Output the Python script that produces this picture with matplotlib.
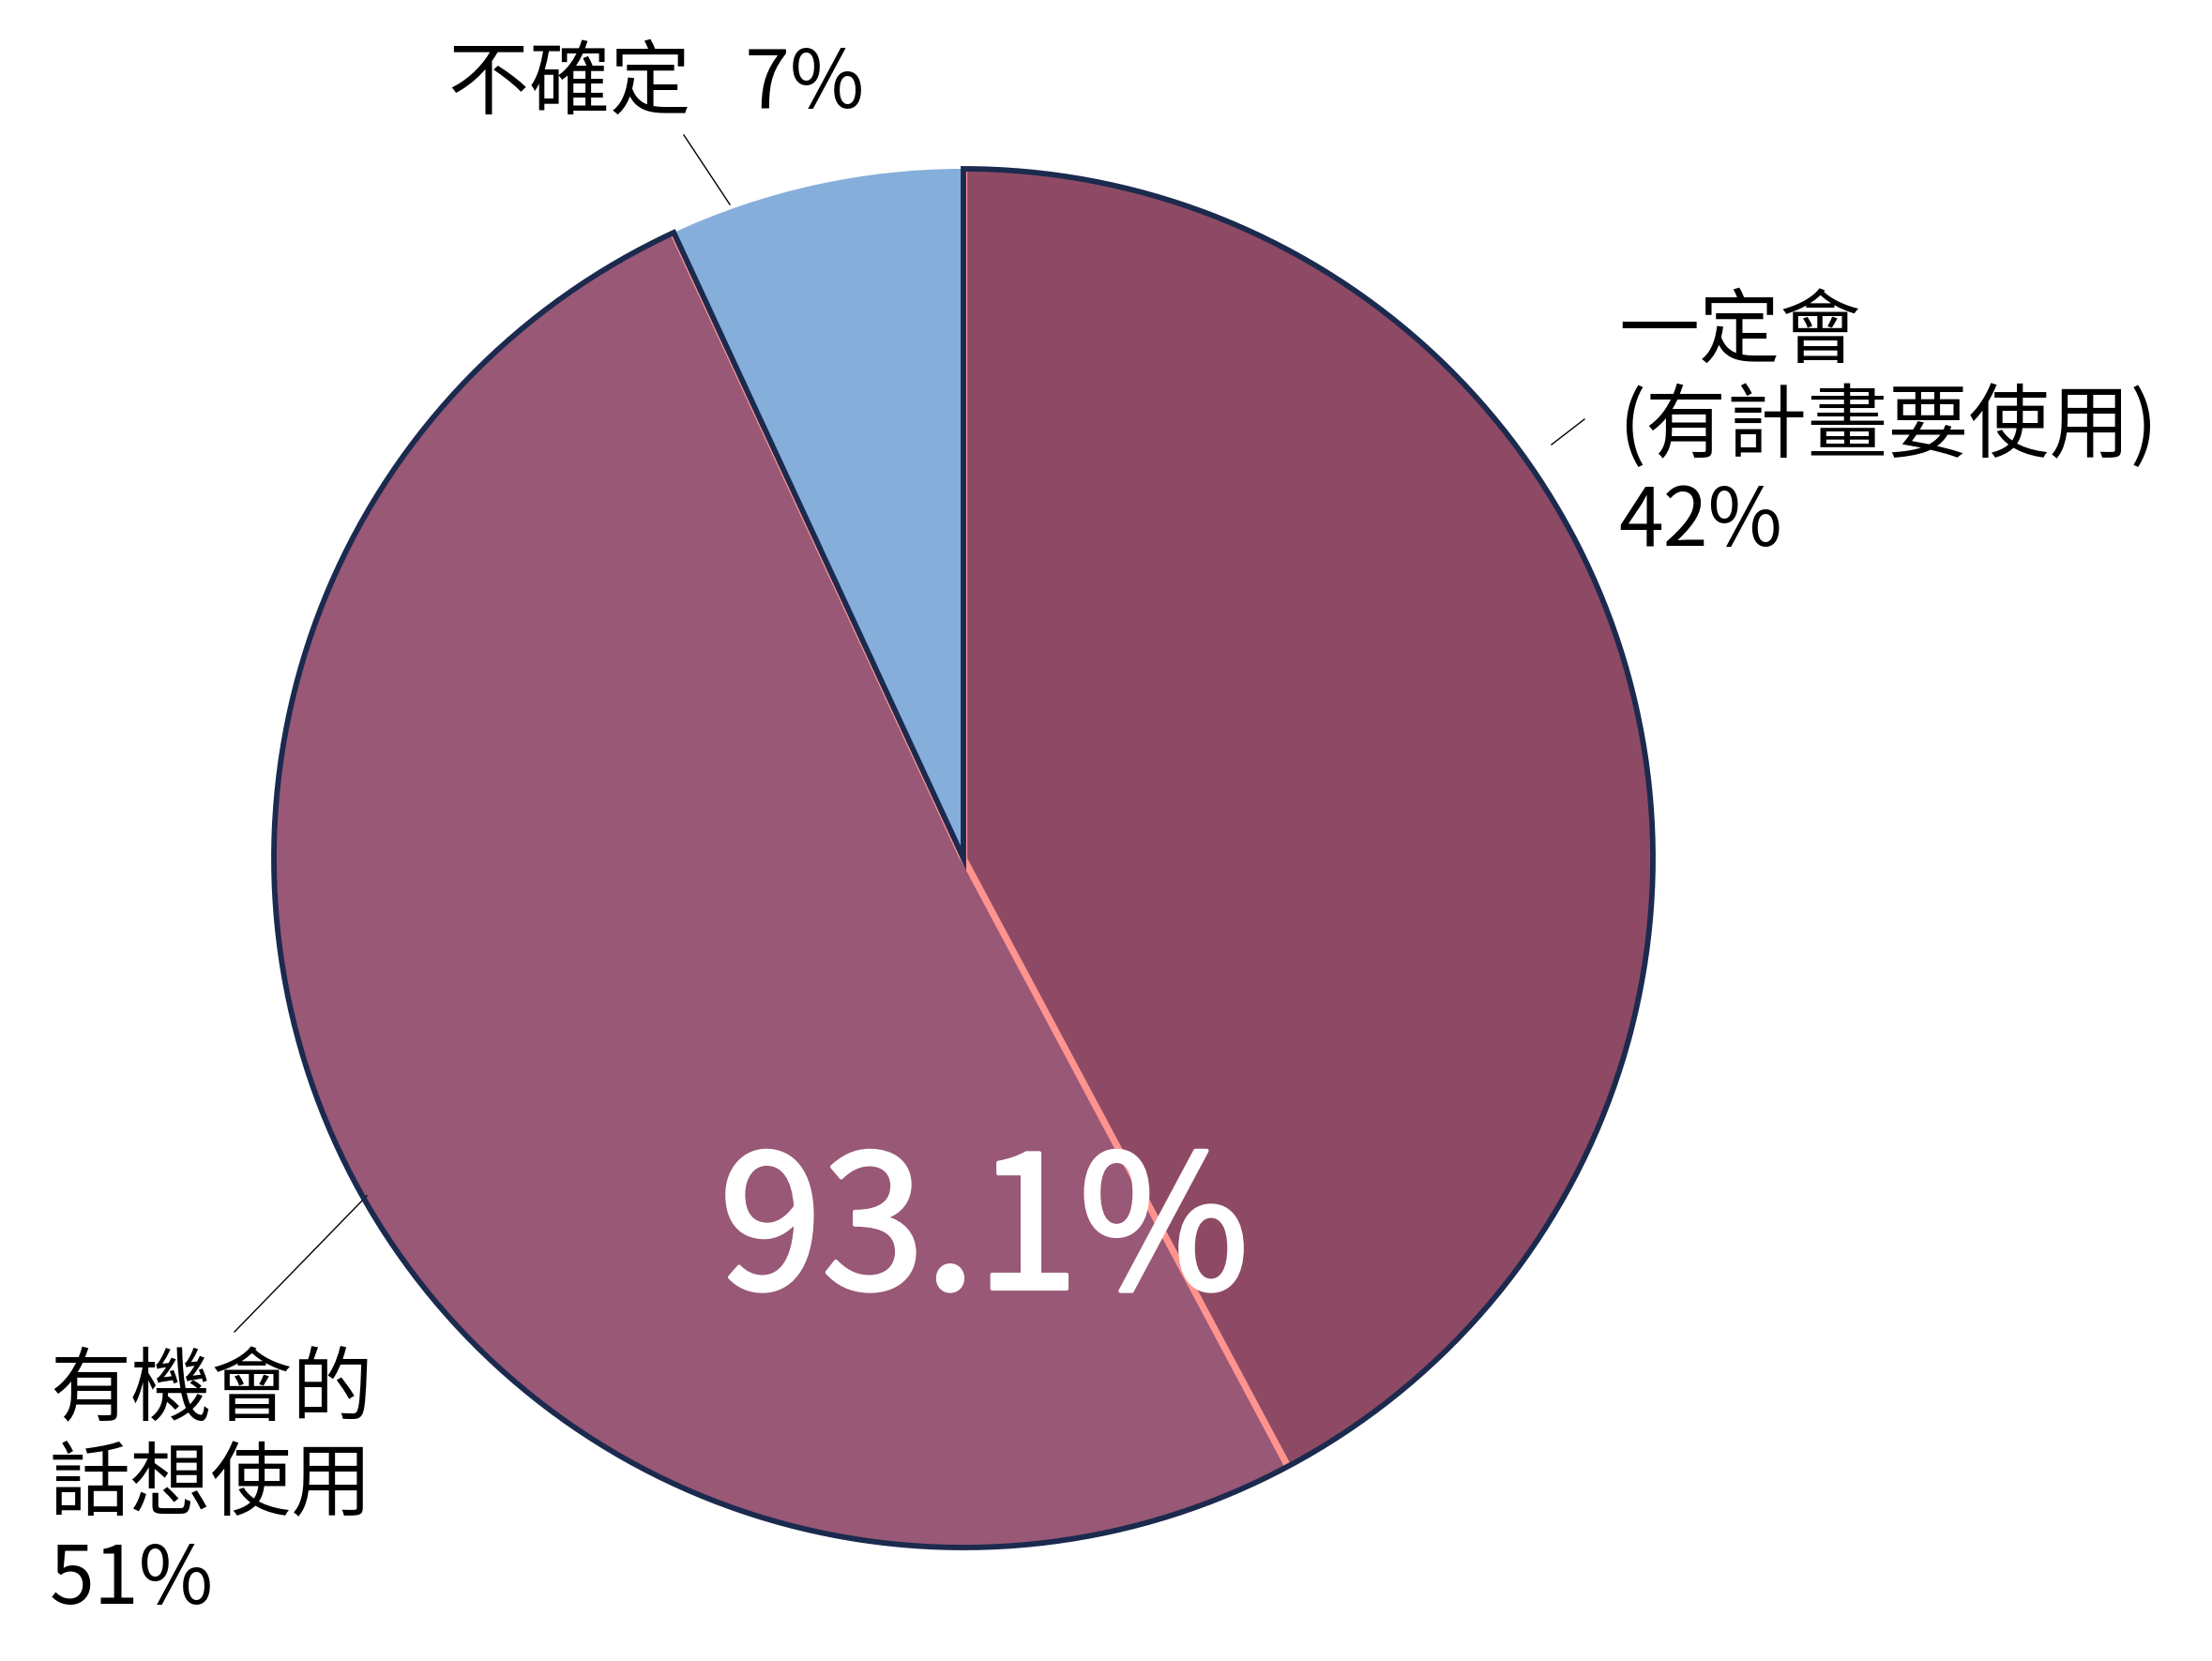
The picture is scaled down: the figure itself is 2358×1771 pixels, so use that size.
import numpy as np
import matplotlib
matplotlib.use('Agg')
import matplotlib.pyplot as plt
import matplotlib.patheffects as pe
from matplotlib.patches import Wedge

plt.rcParams['font.family'] = ['Noto Sans CJK TC', 'DejaVu Sans']

## data
labels = ['一定會\n(有計畫要使用)\n42%', '有機會的\n話想使用\n51%', '不確定   7%']
values = [42.2, 50.9, 6.9]
colors = ['#8E4A64', '#985876', '#86AEDB']
total_label = '93.1%'

## layout (pixels, y up)
W, H = 2358, 1771
cx, cy, r = 1027, 856, 735
navy = '#1B2A4E'
pink = '#FF948F'

fig = plt.figure(figsize=(W / 100, H / 100), dpi=100)
ax = fig.add_axes([0, 0, 1, 1])

wedges, _ = ax.pie(values, colors=colors, startangle=90, counterclock=False,
                   center=(cx, cy), radius=r,
                   wedgeprops={'linewidth': 0})
ax.set_xlim(0, W)
ax.set_ylim(0, H)
ax.set_aspect('equal')
ax.axis('off')

## boundary angles
bounds = 90 - 360 * np.cumsum([0] + values) / sum(values)
a_start, a_mid, a_end = bounds[0], bounds[1], bounds[2] % 360

## outline of the two "yes" slices
union = Wedge((cx, cy), r, a_end, a_start, facecolor='none', edgecolor=navy,
              linewidth=4.2, zorder=5)
ax.add_patch(union)

clip = Wedge((cx, cy), r, a_end, a_start, facecolor='none', edgecolor='none')
ax.add_patch(clip)
for a in [a_start, a_mid, a_end]:
    t = np.deg2rad(a)
    ln, = ax.plot([cx, cx + r * np.cos(t)], [cy, cy + r * np.sin(t)],
                  color=pink, lw=5.2 if a == a_mid else 6.0, zorder=4,
                  solid_capstyle='butt')
    ln.set_clip_path(clip)

## big number
ax.text(1049, 453, total_label, color='white', fontsize=142,
        ha='center', va='center', zorder=6,
        path_effects=[pe.withStroke(linewidth=3, foreground='white')])

## labels
fs = 62
pitch = 101
label_pos = [(1725, 1771 - 380), (53, 1771 - 1508), (478, 1771 - 115)]
for lab, (x, y) in zip(labels, label_pos):
    for i, line in enumerate(lab.split('\n')):
        ax.text(x, y - i * pitch, line, fontsize=fs, ha='left', va='baseline',
                color='black')

## leader lines
leaders = [((1654, 1297), (1689, 1324)),
           ((250, 351), (391, 496)),
           ((729, 1627), (778, 1553))]
for p0, p1 in leaders:
    ax.plot([p0[0], p1[0]], [p0[1], p1[1]], color='black', lw=1.0)

plt.savefig('out.png', dpi=100)
